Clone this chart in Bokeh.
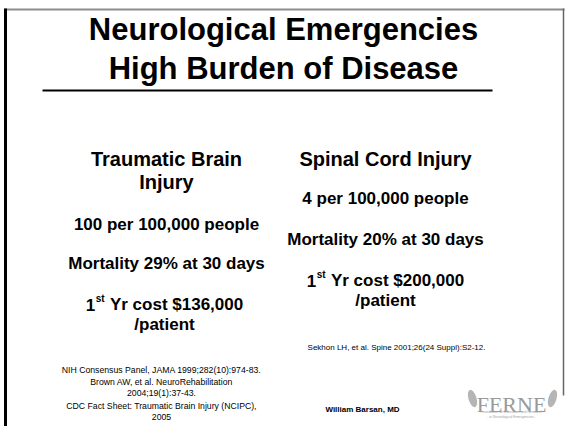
from bokeh.plotting import figure
from bokeh.models import Range1d
from bokeh.core.properties import value
from bokeh.embed import file_html
from bokeh.resources import INLINE

# ---- slide content ----
title_lines = ["Neurological Emergencies", "High Burden of Disease"]
title_y = [29, 68]

left_heading = ["Traumatic Brain", "Injury"]
left_heading_y = [158, 181]
right_heading = ["Spinal Cord Injury"]
right_heading_y = [158]

left_body = ["100 per 100,000 people", "Mortality 29% at 30 days"]
left_body_y = [224, 263]
right_body = ["4 per 100,000 people", "Mortality 20% at 30 days"]
right_body_y = [198, 239]

cost_lead = "1"
cost_sup = "st"
left_cost = "Yr cost $136,000"
right_cost = "Yr cost $200,000"
cost_tail = "/patient"
left_cost_y = [304, 324]
right_cost_y = [280, 300]

left_refs = ["NIH Consensus Panel, JAMA 1999;282(10):974-83.",
             "Brown AW, et al. NeuroRehabilitation",
             "2004;19(1):37-43.",
             "CDC Fact Sheet: Traumatic Brain Injury (NCIPC),",
             "2005"]
left_refs_y = [369, 381, 392, 405, 416]
right_refs = ["Sekhon LH, et al. Spine 2001;26(24 Suppl):S2-12."]
right_refs_y = [347]
author = "William Barsan, MD"
author_y = 409
logo_text = "FERNE"
logo_sub = ["Foundation for Education and Research", "- in Neurological Emergencies -"]

FONT = value("Liberation Sans")
LEFT_X = 166
RIGHT_X = 385

p = figure(frame_width=565, frame_height=426, output_backend="svg", toolbar_location=None,
           x_range=Range1d(0, 565), y_range=Range1d(426, 0), title=None,
           x_axis_location=None, y_axis_location=None,
           min_border=0, background_fill_color="white", border_fill_color="white")
p.grid.visible = False
p.outline_line_color = None

# frame
p.line(x=[4, 564], y=[9, 9], line_color="#8c8c8c", line_width=2)
p.line(x=[5, 5], y=[8, 426], line_color="black", line_width=3)
p.line(x=[563, 563], y=[8, 395], line_color="#666666", line_width=1.5)

# title
p.text(x=[283, 283], y=title_y, text=title_lines, text_font=FONT, text_font_style="bold",
       text_font_size="31px", text_align="center", text_baseline="alphabetic", text_color="black")
p.line(x=[42, 492], y=[90, 90], line_color="black", line_width=2)

def col(x, lines, ys, size):
    p.text(x=[x] * len(lines), y=ys, text=lines, text_font=FONT, text_font_style="bold",
           text_font_size=size, text_align="center", text_baseline="alphabetic", text_color="black")

col(LEFT_X, left_heading, left_heading_y, "20px")
col(RIGHT_X, right_heading, right_heading_y, "20px")
col(LEFT_X, left_body, left_body_y, "17px")
col(RIGHT_X, right_body, right_body_y, "17px")

# cost line with superscript
def cost(xc, rest, ys):
    size = 17
    sup = 10
    w_one = 0.556 * size
    w_sup = (0.556 + 0.333) * sup
    w_gap = 0.278 * size + 1
    w_rest = 7.838 * size
    total = w_one + w_sup + w_gap + w_rest
    x0 = xc - total / 2
    p.text(x=[x0], y=[ys[0]], text=[cost_lead], text_font=FONT, text_font_style="bold",
           text_font_size=f"{size}px", text_baseline="alphabetic")
    p.text(x=[x0 + w_one + 0.5], y=[ys[0] - 6], text=[cost_sup], text_font=FONT, text_font_style="bold",
           text_font_size=f"{sup}px", text_baseline="alphabetic")
    p.text(x=[x0 + w_one + w_sup + w_gap], y=[ys[0]], text=[rest], text_font=FONT, text_font_style="bold",
           text_font_size=f"{size}px", text_baseline="alphabetic")
    col(xc, [cost_tail], [ys[1]], f"{size}px")

cost(164, left_cost, left_cost_y)
cost(RIGHT_X, right_cost, right_cost_y)

# references
p.text(x=[161] * len(left_refs), y=left_refs_y, text=left_refs, text_font=FONT,
       text_font_size="8.7px", text_align="center", text_baseline="alphabetic", text_color="black")
p.text(x=[396], y=right_refs_y, text=right_refs, text_font=FONT,
       text_font_size="8px", text_align="center", text_baseline="alphabetic", text_color="black")
p.text(x=[362], y=[author_y], text=[author], text_font=FONT, text_font_style="bold",
       text_font_size="8px", text_align="center", text_baseline="alphabetic", text_color="black")

# logo
p.text(x=[511], y=[404], text=[logo_text], text_font=value("Liberation Serif"),
       text_font_size="22px", text_align="center", text_baseline="alphabetic", text_color="#9a9a9a")
p.text(x=[511, 511], y=[411, 416], text=logo_sub, text_font=FONT,
       text_font_size="3.5px", text_align="center", text_baseline="alphabetic", text_color="#a0a0a0")
p.ellipse(x=[472, 552], y=[398, 398], width=[8, 8], height=[18, 18], angle=[0.3, -0.3],
          fill_color="#b5b5b5", line_color=None)

open("out.html", "w").write(file_html(p, INLINE))
